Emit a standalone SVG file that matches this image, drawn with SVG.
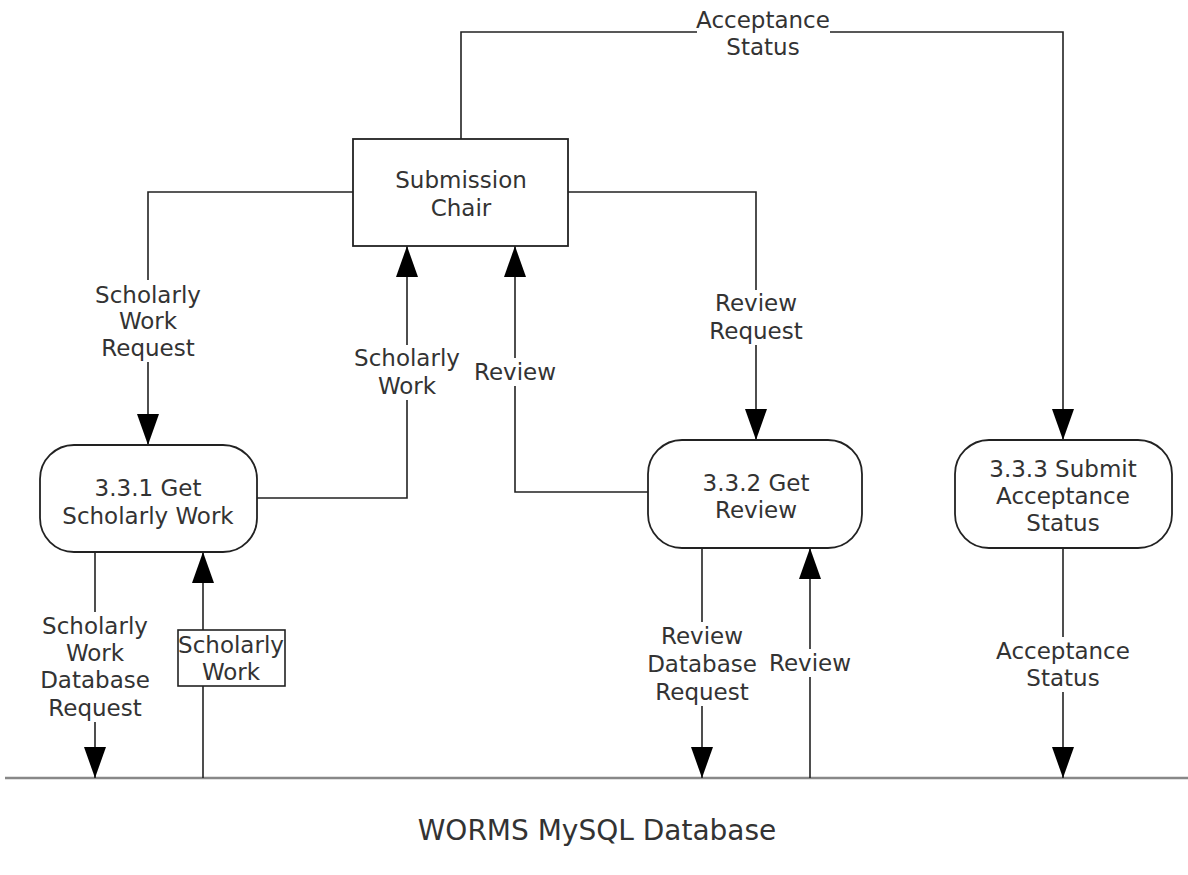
<svg xmlns="http://www.w3.org/2000/svg" width="1188" height="875" viewBox="0 0 1188 875">
  <defs>
    <marker id="arrow" viewBox="0 0 31 22" refX="31" refY="11" markerWidth="31" markerHeight="22" markerUnits="userSpaceOnUse" orient="auto">
      <path d="M0,0 L31,11 L0,22 Z" fill="#000"/>
    </marker>
    <style>
      .flow { fill: none; stroke: #222; stroke-width: 1.6; marker-end: url(#arrow); }
      .node { fill: #fff; stroke: #222; stroke-width: 1.8; }
      .txt { font-family: "DejaVu Sans", Verdana, sans-serif; font-size: 23px; fill: #333; text-anchor: middle; }
      .lbl { font-family: "DejaVu Sans", Verdana, sans-serif; font-size: 23px; fill: #333; text-anchor: middle; }
      .lblbg { fill: #fff; stroke: none; }
    </style>
  </defs>
  <rect width="1188" height="875" fill="#fff"/>

  <!-- data store: database line -->
  <g id="database">
    <line x1="5" y1="778" x2="1188" y2="778" stroke="#888" stroke-width="2.5"/>
    <text class="txt" x="597" y="840" style="font-size:28px">WORMS MySQL Database</text>
  </g>

  <!-- connectors -->
  <g id="connectors">
    <path class="flow" d="M461,139 V32 H1063 V440"/>
    <path class="flow" d="M353,192 H148 V445"/>
    <path class="flow" d="M568,192 H756 V440"/>
    <path class="flow" d="M257,498 H407 V246"/>
    <path class="flow" d="M648,492 H515 V246"/>
    <path class="flow" d="M95,552 V778"/>
    <path class="flow" d="M203,778 V552"/>
    <path class="flow" d="M702,548 V778"/>
    <path class="flow" d="M810,778 V548"/>
    <path class="flow" d="M1063,548 V778"/>

    <!-- connector labels -->
    <rect class="lblbg" x="697" y="8" width="133" height="52"/>
    <text class="lbl"><tspan x="763" y="28">Acceptance</tspan><tspan x="763" y="55">Status</tspan></text>

    <rect class="lblbg" x="88" y="280" width="120" height="82"/>
    <text class="lbl"><tspan x="148" y="303">Scholarly</tspan><tspan x="148" y="329">Work</tspan><tspan x="148" y="356">Request</tspan></text>

    <rect class="lblbg" x="706" y="290" width="100" height="55"/>
    <text class="lbl"><tspan x="756" y="311">Review</tspan><tspan x="756" y="339">Request</tspan></text>

    <rect class="lblbg" x="350" y="345" width="114" height="55"/>
    <text class="lbl"><tspan x="407" y="366">Scholarly</tspan><tspan x="407" y="394">Work</tspan></text>

    <rect class="lblbg" x="470" y="358" width="90" height="28"/>
    <text class="lbl" x="515" y="380">Review</text>

    <rect class="lblbg" x="36" y="612" width="118" height="110"/>
    <text class="lbl"><tspan x="95" y="634">Scholarly</tspan><tspan x="95" y="661">Work</tspan><tspan x="95" y="688">Database</tspan><tspan x="95" y="716">Request</tspan></text>

    <rect x="178" y="630" width="107" height="56" fill="#fff" stroke="#222" stroke-width="1.6"/>
    <text class="lbl"><tspan x="231" y="653">Scholarly</tspan><tspan x="231" y="680">Work</tspan></text>

    <rect class="lblbg" x="650" y="622" width="104" height="84"/>
    <text class="lbl"><tspan x="702" y="644">Review</tspan><tspan x="702" y="672">Database</tspan><tspan x="702" y="700">Request</tspan></text>

    <rect class="lblbg" x="766" y="649" width="88" height="28"/>
    <text class="lbl" x="810" y="671">Review</text>

    <rect class="lblbg" x="993" y="637" width="140" height="55"/>
    <text class="lbl"><tspan x="1063" y="659">Acceptance</tspan><tspan x="1063" y="686">Status</tspan></text>
  </g>

  <!-- external entity -->
  <g id="submission-chair">
    <rect class="node" x="353" y="139" width="215" height="107"/>
    <text class="txt"><tspan x="461" y="188">Submission</tspan><tspan x="461" y="216">Chair</tspan></text>
  </g>

  <!-- processes -->
  <g id="get-scholarly-work">
    <rect class="node" x="40" y="445" width="217" height="107" rx="34" ry="34"/>
    <text class="txt"><tspan x="148" y="496">3.3.1 Get</tspan><tspan x="148" y="524">Scholarly Work</tspan></text>
  </g>

  <g id="get-review">
    <rect class="node" x="648" y="440" width="214" height="108" rx="34" ry="34"/>
    <text class="txt"><tspan x="756" y="491">3.3.2 Get</tspan><tspan x="756" y="518">Review</tspan></text>
  </g>

  <g id="submit-acceptance-status">
    <rect class="node" x="955" y="440" width="217" height="108" rx="34" ry="34"/>
    <text class="txt"><tspan x="1063" y="477">3.3.3 Submit</tspan><tspan x="1063" y="504">Acceptance</tspan><tspan x="1063" y="531">Status</tspan></text>
  </g>
</svg>
